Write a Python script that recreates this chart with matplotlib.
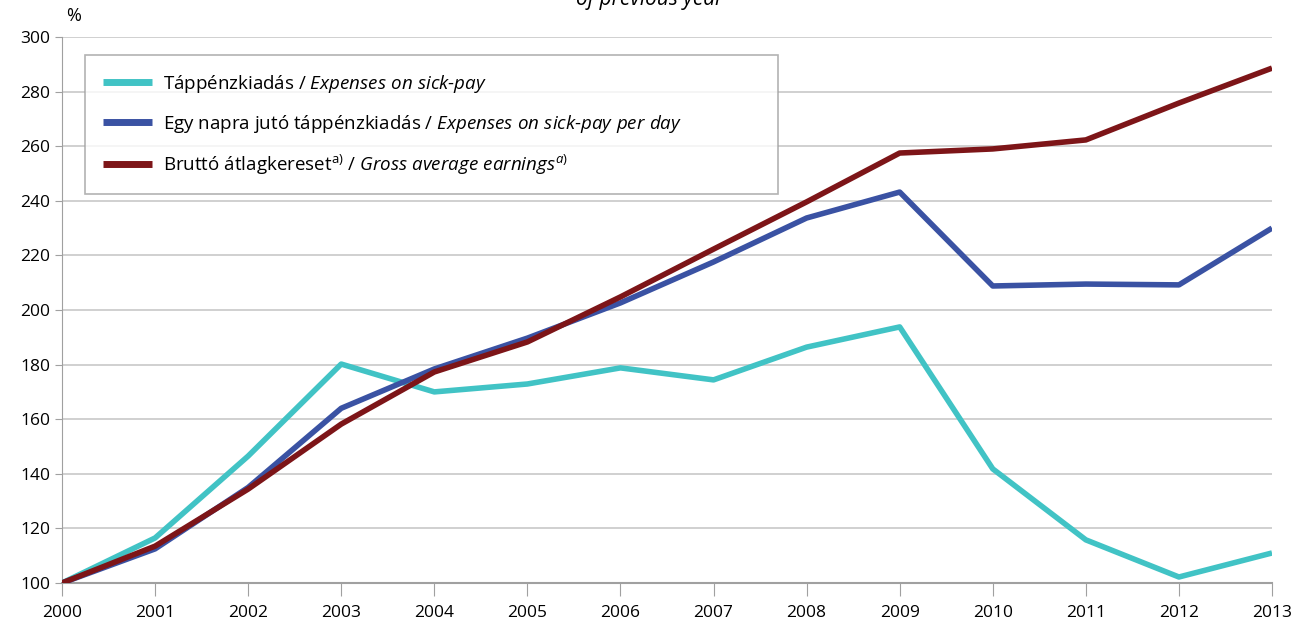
import matplotlib
matplotlib.use('Agg')
import matplotlib.pyplot as plt

years = list(range(2000, 2014))
sick_pay = [100, 116.5, 146.5, 180.2, 170.0, 172.9, 178.8, 174.4, 186.4, 193.8, 141.8, 115.8, 102.2, 111.0]
sick_pay_per_day = [100, 112.5, 135.0, 164.0, 178.4, 189.7, 202.6, 217.6, 233.7, 243.2, 208.8, 209.5, 209.2, 230.0]
gross_earnings = [100, 113.5, 134.4, 158.2, 177.3, 188.3, 204.8, 222.3, 239.6, 257.5, 259.0, 262.3, 275.8, 288.6]

labels = [
    r'Táppénzkiadás / $\mathit{Expenses\ on\ sick}$-$\mathit{pay}$',
    r'Egy napra jutó táppénzkiadás / $\mathit{Expenses\ on\ sick}$-$\mathit{pay\ per\ day}$',
    r'Bruttó átlagkereset$^{\mathrm{a)}}$ / $\mathit{Gross\ average\ earnings}^{\mathit{a)}}$',
]
colors = ['#41C3C5', '#3A52A3', '#7D1518']

plt.rcParams['font.family'] = ['Open Sans', 'DejaVu Sans']
plt.rcParams['mathtext.fontset'] = 'custom'
plt.rcParams['mathtext.rm'] = 'Open Sans'
plt.rcParams['mathtext.it'] = 'Open Sans:italic'

fig = plt.figure(figsize=(12.96, 6.21), dpi=100)
ax = fig.add_axes([62 / 1296, 38 / 621, 1210 / 1296, 546 / 621])

for vals, lab, col in zip([sick_pay, sick_pay_per_day, gross_earnings], labels, colors):
    ax.plot(years, vals, color=col, linewidth=4.0, label=lab, solid_capstyle='butt', zorder=3)

ax.set_xlim(2000, 2013)
ax.set_ylim(100, 300)
ax.set_xticks(years)
ax.set_yticks(range(100, 301, 20))
ax.grid(axis='y', color='#c8c8c8', linewidth=1.2, zorder=0)
for s in ['top', 'right']:
    ax.spines[s].set_visible(False)
ax.spines['left'].set_color('#a0a0a0')
ax.spines['bottom'].set_color('#a0a0a0')
ax.spines['bottom'].set_linewidth(1.5)
ax.tick_params(axis='x', direction='out', length=9, color='#a0a0a0', labelsize=12.5, pad=7)
ax.tick_params(axis='y', direction='out', length=5, color='#a0a0a0', labelsize=12.5)

ax.text(0.003, 1.022, '%', transform=ax.transAxes, fontsize=13, ha='left', va='bottom')
fig.text(650 / 1296, 1.0, 'of previous year', fontsize=15, style='italic', ha='center', va='center')

leg = ax.legend(loc='upper left', bbox_to_anchor=(23 / 1210, 0, 693 / 1210, 1 - 18 / 546),
                mode='expand', fontsize=13.5,
                frameon=True, fancybox=False, edgecolor='#a0a0a0', handlelength=2.6,
                labelspacing=0.95, borderpad=0.95, borderaxespad=0, handletextpad=0.6)
leg.get_frame().set_linewidth(1.2)
for line in leg.get_lines():
    line.set_linewidth(5)

fig.savefig('out.png', dpi=100)
